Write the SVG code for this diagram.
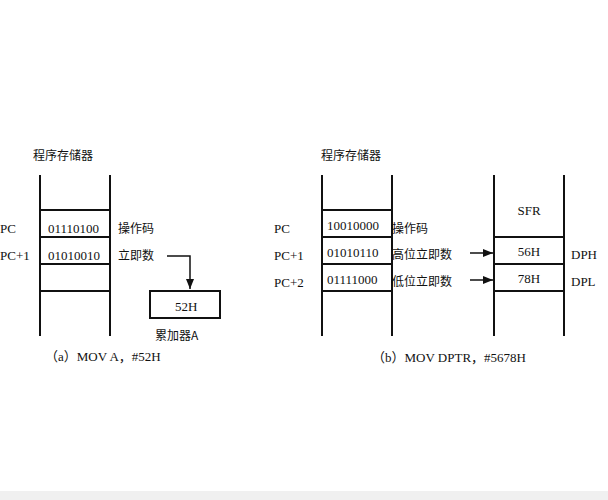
<svg xmlns="http://www.w3.org/2000/svg" width="608" height="500" viewBox="0 0 608 500">
<style>
line,rect.b{stroke:#111;stroke-width:2;fill:none}
text{font-family:"Liberation Serif","Noto Sans CJK SC",serif;font-size:13px;fill:#111}
.c{font-family:"Noto Sans CJK SC",sans-serif;font-size:12px}
</style>
<defs><marker id="a" viewBox="0 0 10 10" refX="10" refY="5" markerWidth="7" markerHeight="7" orient="auto"><path d="M0,1L10,5L0,9z" fill="#111"/></marker></defs>
<rect width="608" height="500" fill="#fff"/>
<rect y="491" width="608" height="9" fill="#f0f0f0"/>
<g id="memA">
<text class="c" x="33" y="160">程序存储器</text>
<line x1="40" y1="175" x2="40" y2="336"/><line x1="110" y1="175" x2="110" y2="336"/>
<line x1="40" y1="210" x2="110" y2="210"/><line x1="40" y1="237" x2="110" y2="237"/><line x1="40" y1="264" x2="110" y2="264"/><line x1="40" y1="291" x2="110" y2="291"/>
<text x="0" y="233">PC</text><text x="0" y="260">PC+1</text>
<text x="48" y="233">01110100</text><text x="48" y="260">01010010</text>
<text class="c" x="118" y="233">操作码</text><text class="c" x="118" y="260">立即数</text>
</g>
<g id="accA">
<rect class="b" x="150" y="291" width="70" height="27"/>
<text x="175" y="311">52H</text>
<text class="c" x="155" y="340">累加器A</text>
</g>
<text x="45" y="361">（a）MOV  A，#52H</text>
<g id="memB">
<text class="c" x="321" y="160">程序存储器</text>
<line x1="322" y1="175" x2="322" y2="336"/><line x1="392" y1="175" x2="392" y2="336"/>
<line x1="322" y1="210" x2="392" y2="210"/><line x1="322" y1="237" x2="392" y2="237"/><line x1="322" y1="264" x2="392" y2="264"/><line x1="322" y1="291" x2="392" y2="291"/>
<text x="274" y="233">PC</text><text x="274" y="260">PC+1</text><text x="274" y="287">PC+2</text>
<text x="327" y="230">10010000</text><text x="327" y="257">01010110</text><text x="327" y="284">01111000</text>
<text class="c" x="392" y="233">操作码</text><text class="c" x="392" y="259">高位立即数</text><text class="c" x="392" y="286">低位立即数</text>
</g>
<g id="sfr">
<line x1="494" y1="175" x2="494" y2="336"/><line x1="564" y1="175" x2="564" y2="336"/>
<line x1="494" y1="237" x2="564" y2="237"/><line x1="494" y1="264" x2="564" y2="264"/><line x1="494" y1="291" x2="564" y2="291"/>
<text x="529" y="215" text-anchor="middle">SFR</text>
<text x="529" y="256" text-anchor="middle">56H</text><text x="529" y="283" text-anchor="middle">78H</text>
<text x="571" y="259">DPH</text><text x="571" y="286">DPL</text>
</g>
<text x="372" y="362">（b）MOV DPTR，#5678H</text>
<g id="connectors">
<polyline points="167,256 190,256 190,289" fill="none" stroke="#111" stroke-width="1.5" marker-end="url(#a)"/>
<line x1="470" y1="253" x2="493" y2="253" style="stroke-width:1.5" marker-end="url(#a)"/>
<line x1="470" y1="280" x2="493" y2="280" style="stroke-width:1.5" marker-end="url(#a)"/>
</g>
</svg>
